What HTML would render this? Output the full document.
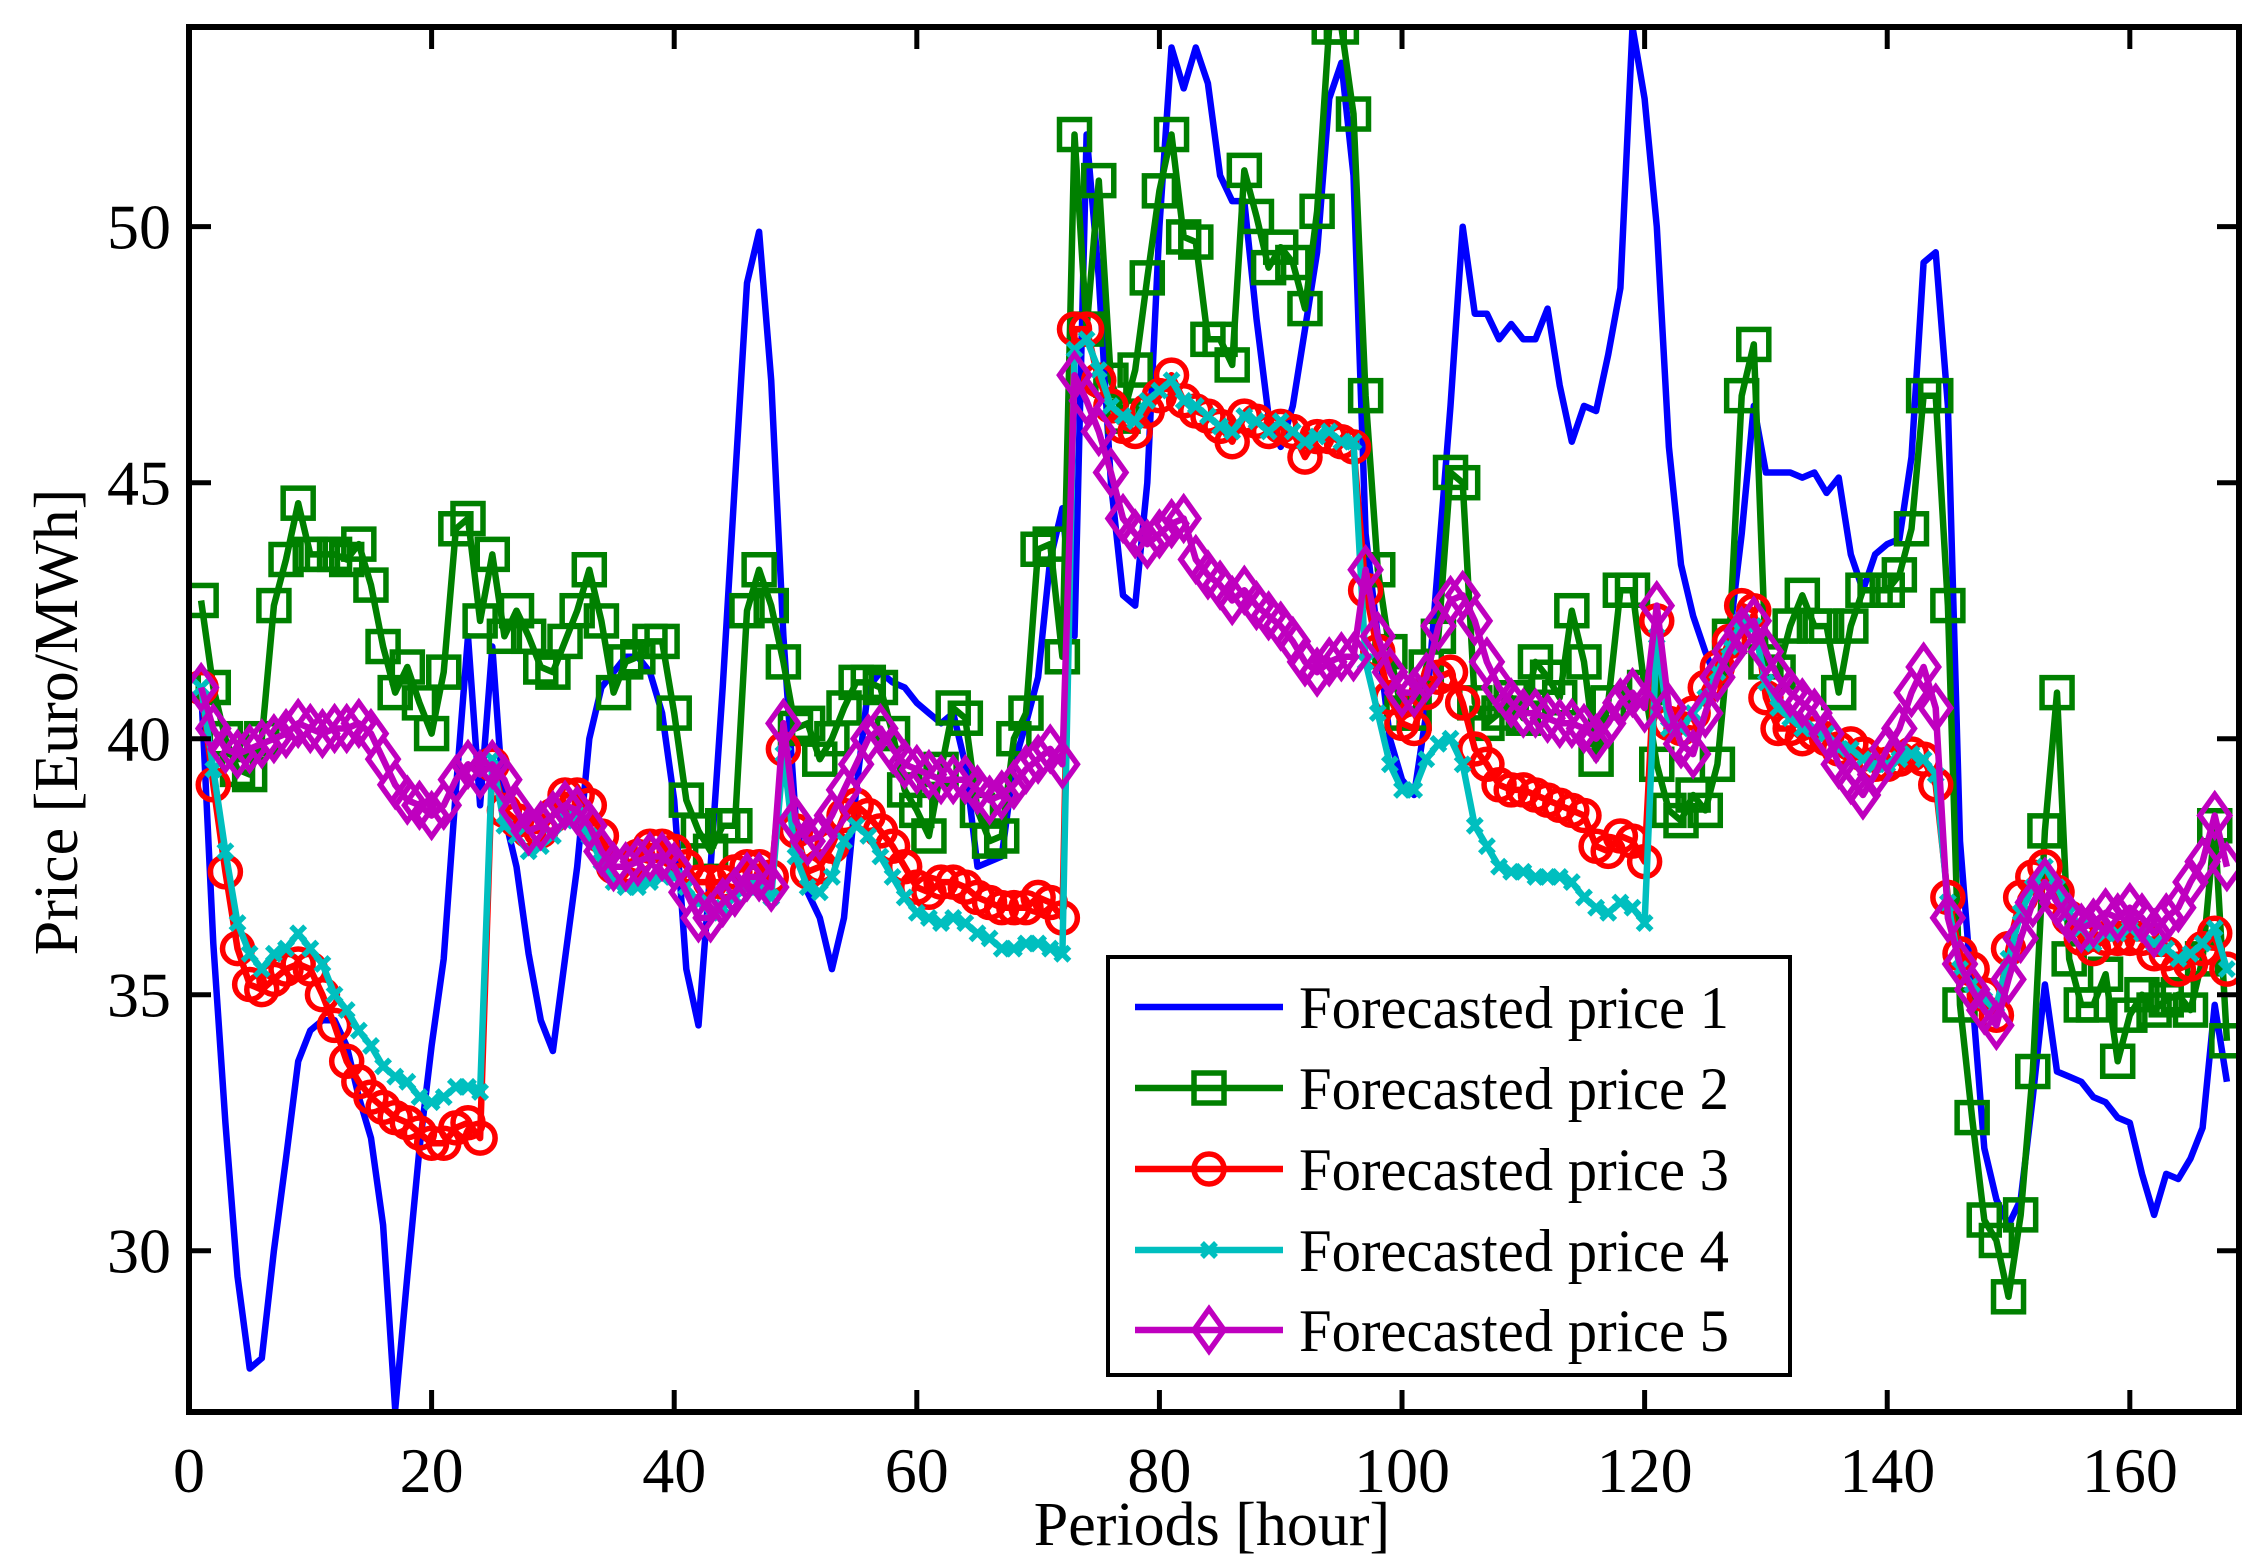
<!DOCTYPE html>
<html><head><meta charset="utf-8"><style>
html,body{margin:0;padding:0;background:#fff;}
svg{display:block;}
text{font-family:"Liberation Serif",serif;fill:#000;}
</style></head><body>
<svg id="chart" width="2263" height="1567" viewBox="0 0 2263 1567" xmlns="http://www.w3.org/2000/svg">
<g id="series"></g>
<g id="axes"></g>
<g id="legend"></g>
</svg>
<script>
const xTicks=[0,20,40,60,80,100,120,140,160];
const yTicks=[30,35,40,45,50];
const seriesNames=["Forecasted price 1","Forecasted price 2","Forecasted price 3","Forecasted price 4","Forecasted price 5"];
const price1=[41,36,32.5,29.5,27.7,27.9,30,31.8,33.7,34.3,34.5,34.5,34,33,32.2,30.5,26.9,29.5,32,34,35.7,39,42,38.7,41.8,38.5,37.5,35.8,34.5,33.9,35.7,37.5,40,41,41.3,41.6,41.6,41.3,40.5,38.8,35.5,34.4,37.5,41,45,48.9,49.9,47,42,38.5,37,36.5,35.5,36.5,39,41,41.3,41.1,41,40.7,40.5,40.3,40.5,39.5,37.5,37.6,37.7,39.5,40.3,41.2,43.5,44.5,42,51.8,49,45,42.8,42.6,45,50,53.5,52.7,53.5,52.8,51,50.5,50.5,48.2,46.3,45.7,46.5,48,49.5,52.5,53.2,51,44,42,40,39.2,38.9,40.5,43.5,46.5,50,48.3,48.3,47.8,48.1,47.8,47.8,48.4,46.9,45.8,46.5,46.4,47.5,48.8,53.9,52.5,50,45.7,43.4,42.4,41.7,41.1,42,44,46.5,45.2,45.2,45.2,45.1,45.2,44.8,45.1,43.6,42.9,43.6,43.8,43.9,45.5,49.3,49.5,46.5,38,35,32,31,30.5,31,33,35.2,33.5,33.4,33.3,33,32.9,32.6,32.5,31.5,30.7,31.5,31.4,31.8,32.4,34.8,33.3];
const price2=[42.7,41,40,39.4,39.3,40,42.6,43.5,44.6,43.6,43.6,43.6,43.5,43.8,43,41.8,40.9,41.4,40.7,40.1,41.3,44.1,44.3,42.3,43.6,42,42.5,42,41.4,41.3,41.9,42.5,43.3,42.3,40.9,41.5,41.6,41.9,41.9,40.5,38.8,38.2,37.8,38.3,38.3,42.5,43.3,42.6,41.5,40.2,40.3,39.6,40,40.6,41.1,41.1,41,40.1,39,38.6,38.1,39.4,40.6,40.4,38.6,38,38.1,40,40.5,43.7,43.8,41.6,51.8,48,50.9,47,46.3,47.2,49,50.7,51.8,49.8,49.7,47.8,47.8,47.3,51.1,50.2,49.2,49.6,49.3,48.4,50.3,53.9,53.9,52.2,46.7,43.3,41.7,40.5,40.5,41.4,42,45.2,45,40.7,40.3,40.5,40.8,40.4,41.5,41.2,40.8,42.5,41.5,39.6,40.7,42.9,42.9,41,39.5,38.6,38.4,38.9,38.6,39.5,42,46.7,47.7,41.5,41.3,42.2,42.8,42.2,42.2,40.9,42.2,42.9,42.9,42.9,43.2,44.1,46.7,46.7,42.6,34.8,32.6,30.6,30.2,29.1,30.7,33.5,38.2,40.9,35.7,34.8,34.8,35.4,33.7,34.6,35,34.7,34.9,35,34.7,35.7,38.3,34.1];
const price3=[41,39.1,37.4,35.9,35.2,35.1,35.3,35.5,35.6,35.5,35,34.4,33.7,33.3,33,32.8,32.6,32.5,32.3,32.1,32.1,32.4,32.5,32.2,39.5,38.6,38.4,38.2,38.2,38.5,38.9,38.9,38.7,38.1,37.5,37.5,37.7,37.9,37.9,37.8,37.5,37.2,37.2,37.2,37.4,37.5,37.5,37.3,39.8,38.2,37.4,37.5,37.9,38.5,38.7,38.5,38.2,37.9,37.5,37.1,37,37.2,37.2,37.1,36.9,36.8,36.7,36.7,36.7,36.9,36.8,36.5,48,48,47,46.5,46.1,46,46.4,46.7,47.1,46.6,46.4,46.3,46.1,45.8,46.3,46.2,46,46.1,46,45.5,45.9,45.9,45.8,45.7,42.9,41.7,40.8,40.3,40.2,40.9,41.2,41.3,40.7,39.8,39.5,39.1,39,39,38.9,38.8,38.7,38.6,38.5,37.9,37.8,38.1,38,37.6,42.3,40.3,40.2,40.5,41,41.4,41.9,42.6,42.5,40.8,40.2,40.2,40,40.1,40,39.8,39.9,39.7,39.5,39.5,39.6,39.7,39.6,39.1,36.9,35.8,35.5,35,34.6,35.9,36.9,37.3,37.5,37,36.5,36.1,35.9,36.1,36.1,36.1,36.1,35.8,35.8,35.5,35.6,35.9,36.2,35.5];
const price4=[41,39.4,37.8,36.4,35.8,35.5,35.8,35.9,36.2,35.9,35.6,35,34.7,34.3,34,33.6,33.4,33.3,33,32.9,33,33.2,33.2,33.1,39.6,38.3,38.1,37.8,37.9,38.1,38.4,38.5,38.1,37.6,37.2,37.1,37.1,37.2,37.3,37.3,37.1,36.8,36.6,36.7,36.9,37.1,37.1,36.9,39.7,37.7,37.1,37,37.3,38,38.3,38.1,37.7,37.3,36.9,36.6,36.5,36.4,36.5,36.4,36.2,36.1,35.9,35.9,36,36,35.9,35.8,47.6,47.8,47.2,46.5,46.3,46.2,46.6,46.8,47,46.6,46.5,46.3,46.1,46,46.3,46.2,46,46.2,46,45.8,45.9,46,45.8,45.8,41.5,40.5,39.5,39,39,39.6,39.9,40,39.5,38.3,37.9,37.5,37.4,37.4,37.3,37.3,37.3,37.2,36.9,36.7,36.6,36.8,36.7,36.4,42,40.2,40.2,40.5,40.8,41.3,41.8,42.3,42.2,41.1,40.6,40.4,40.2,40.2,40.1,39.8,39.8,39.6,39.5,39.5,39.6,39.7,39.6,39.3,36.8,35.5,35.2,34.9,34.8,35.7,36.6,37.1,37.5,37.1,36.6,36.3,36,36.2,36.2,36.3,36.2,36,35.9,35.7,35.8,36,36.3,35.5];
const price5=[41,40.2,39.8,39.7,39.8,39.9,40,40.1,40.3,40.2,40.1,40.2,40.2,40.3,40.1,39.6,39.1,38.8,38.7,38.5,38.7,39.2,39.5,39.3,39.5,39.2,38.6,38.2,38.3,38.5,38.7,38.6,38.3,37.8,37.5,37.5,37.6,37.7,37.7,37.5,37,36.5,36.5,36.8,37,37.3,37.3,37.1,40.3,38.4,38,38.1,38.5,39,39.5,40,40.2,39.8,39.5,39.4,39.3,39.2,39.2,39.2,39,38.8,38.9,39.1,39.4,39.6,39.8,39.5,47.1,46.6,46,45.2,44.3,44,43.8,44,44.2,44.3,43.5,43.2,43,42.7,42.9,42.6,42.4,42.2,41.9,41.5,41.3,41.5,41.6,41.6,43.3,42,41.3,40.9,40.9,41.2,42.2,42.7,42.8,42.3,41.5,41,40.7,40.5,40.5,40.4,40.3,40.3,40.2,40,40.3,40.7,40.9,40.6,42.6,40.6,39.9,39.7,40.5,41.2,41.7,42.1,42.3,41.7,41.2,40.9,40.7,40.5,40.1,39.5,39.2,38.9,39.3,39.8,40.2,40.9,41.4,40.6,36.5,35.6,35.1,34.7,34.4,35.3,36.1,36.8,37.2,36.8,36.5,36.3,36.4,36.6,36.5,36.7,36.5,36.2,36.5,36.7,37.2,37.6,38.5,37.5];

const NS="http://www.w3.org/2000/svg";
const L=189,R=2239,T=27,B=1412;
const xMin=0,xMax=169,yMin=26.85,yMax=53.9;
function X(v){return L+(v-xMin)/(xMax-xMin)*(R-L);}
function Y(v){return B-(v-yMin)/(yMax-yMin)*(B-T);}
function mk(tag,attrs,parent){const e=document.createElementNS(NS,tag);for(const k in attrs)e.setAttribute(k,attrs[k]);parent.appendChild(e);return e;}

const sg=document.getElementById('series');
const ag=document.getElementById('axes');
const lg=document.getElementById('legend');
const styles=[
 {c:"#0000ff",m:"none"},
 {c:"#008000",m:"square"},
 {c:"#ff0000",m:"circle"},
 {c:"#00bfbf",m:"x"},
 {c:"#bf00bf",m:"diamond"}];
const allData=[price1,price2,price3,price4,price5];

function marker(type,cx,cy,color,parent){
  let e=null;
  if(type==="square"){e=mk('rect',{x:cx-15,y:cy-15,width:30,height:30,fill:"none",stroke:color,"stroke-width":5.5},parent);}
  else if(type==="circle"){e=mk('ellipse',{cx:cx,cy:cy,rx:15,ry:15,fill:"none",stroke:color,"stroke-width":5.5},parent);}
  else if(type==="x"){e=mk('path',{d:`M${cx-7} ${cy-7}L${cx+7} ${cy+7}M${cx-7} ${cy+7}L${cx+7} ${cy-7}`,fill:"none",stroke:color,"stroke-width":5.5},parent);}
  else if(type==="diamond"){e=mk('path',{d:`M${cx} ${cy-21}L${cx+15} ${cy}L${cx} ${cy+21}L${cx-15} ${cy}Z`,fill:"none",stroke:color,"stroke-width":5.5},parent);}
  return e;
}

const clip=mk('clipPath',{id:'pc'},document.getElementById('chart'));
mk('rect',{x:L,y:T,width:R-L,height:B-T},clip);
sg.setAttribute('clip-path','url(#pc)');

allData.forEach((data,si)=>{
  const st=styles[si];
  const g=mk('g',{},sg);
  
  
  const pts=data.map((v,i)=>X(i+1).toFixed(1)+","+Y(v).toFixed(1)).join(" ");
  const line=mk('polyline',{points:pts,fill:"none",stroke:st.c,"stroke-width":6.5,"stroke-linejoin":"round"},g);
  
  
  if(st.m!=="none"){
    data.forEach((v,i)=>{
      const m=marker(st.m,X(i+1),Y(v),st.c,g);
      
      
    });
  }
});

const box=mk('rect',{x:L,y:T,width:R-L,height:B-T,fill:"none",stroke:"#000","stroke-width":6},ag);


xTicks.forEach(t=>{
  const x=X(t);
  mk('line',{x1:x,y1:B,x2:x,y2:B-22,stroke:"#000","stroke-width":5},ag);
  mk('line',{x1:x,y1:T,x2:x,y2:T+22,stroke:"#000","stroke-width":5},ag);
  const tx=mk('text',{x:x,y:B+80,"font-size":64,"text-anchor":"middle"},ag);
  tx.textContent=t;
  
  
});
yTicks.forEach(t=>{
  const y=Y(t);
  mk('line',{x1:L,y1:y,x2:L+22,y2:y,stroke:"#000","stroke-width":5},ag);
  mk('line',{x1:R,y1:y,x2:R-22,y2:y,stroke:"#000","stroke-width":5},ag);
  const tx=mk('text',{x:L-18,y:y+22,"font-size":64,"text-anchor":"end"},ag);
  tx.textContent=t;
  
  
});
const xl=mk('text',{x:1212,y:1545,"font-size":62,"text-anchor":"middle"},ag);
xl.textContent="Periods [hour]";


const yl=mk('text',{x:0,y:0,"font-size":62,"text-anchor":"middle",transform:"translate(77,722) rotate(-90)"},ag);
yl.textContent="Price [Euro/MWh]";



const lb=mk('rect',{x:1108,y:957,width:682,height:418,fill:"#fff",stroke:"#000","stroke-width":4},lg);


const ly=[1007,1088,1169,1250,1330];
seriesNames.forEach((n,i)=>{
  const g=mk('g',{},lg);
  
  
  mk('line',{x1:1135,y1:ly[i],x2:1283,y2:ly[i],stroke:styles[i].c,"stroke-width":6.5},g);
  if(styles[i].m!=="none") marker(styles[i].m,1209,ly[i],styles[i].c,g);
  const t=mk('text',{x:1299,y:ly[i]+21,"font-size":60,textLength:430,lengthAdjust:"spacingAndGlyphs"},g);
  t.textContent=n;
});
</script>
</body></html>
